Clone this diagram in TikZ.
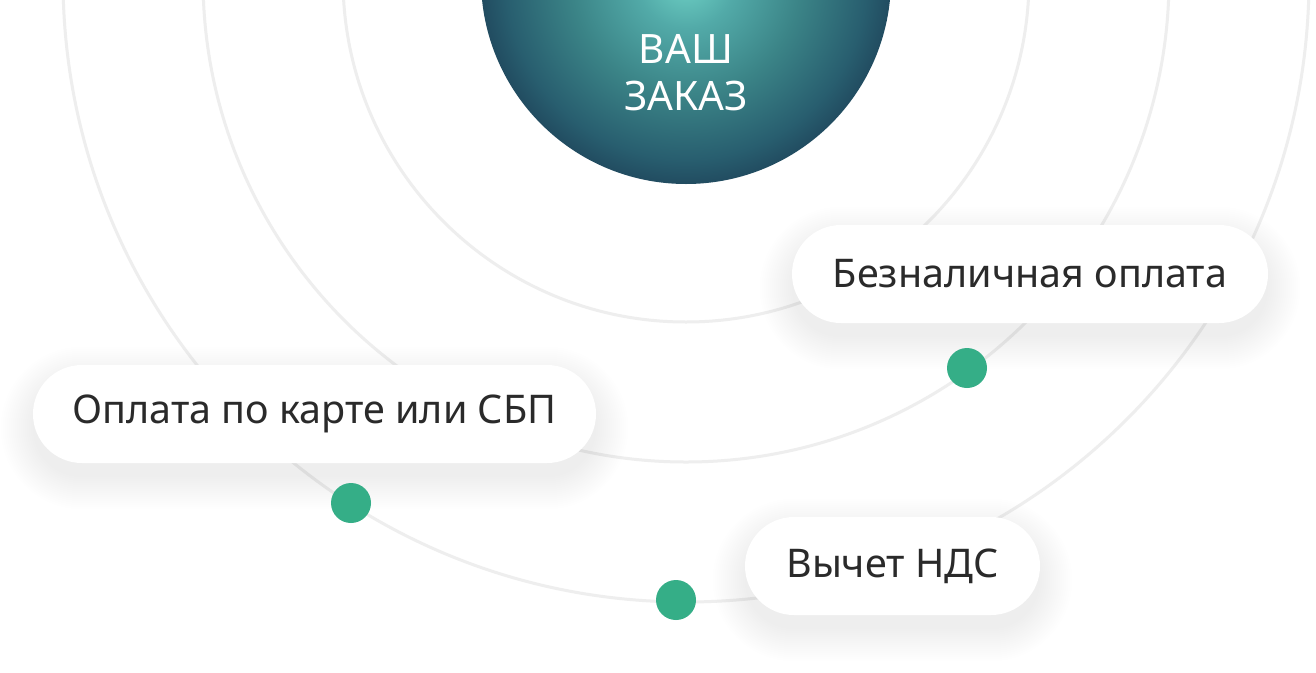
\documentclass[tikz,border=0pt]{standalone}
\usepackage{fontspec}
\setmainfont{Noto Sans}
\definecolor{ringc}{HTML}{EEEEEE}
\definecolor{dotc}{HTML}{35AE87}
\definecolor{textc}{HTML}{2A2A2A}
\definecolor{o1}{HTML}{6FD2C6}
\definecolor{o2}{HTML}{52AAA8}
\definecolor{o3}{HTML}{3B8487}
\definecolor{o4}{HTML}{285E6F}
\definecolor{o5}{HTML}{1B3A52}
\pgfdeclareradialshading{orb}{\pgfpoint{0bp}{0bp}}{color(0bp)=(o1); color(6bp)=(o2); color(14bp)=(o3); color(22bp)=(o4); color(28bp)=(o5); color(50bp)=(o5)}
\pgfdeclarelayer{back}
\pgfdeclarelayer{shadow}
\pgfsetlayers{back,shadow,main}
\tikzset{
  ring/.style={draw=ringc, line width=3pt},
  dotnode/.style={circle, fill=dotc, minimum size=40pt, inner sep=0pt},
  pill/.style={rectangle, rounded corners=49pt, minimum height=98pt, inner sep=0pt,
    fill=white, text=textc, font=\fontsize{39.5}{46}\selectfont},
  shadowstep/.style={fill=black, opacity=0.0055},
  orbnode/.style={circle, minimum size=410pt, inner sep=0pt, shading=orb},
  orbtext/.style={text=white, align=center, font=\fontsize{40.5}{47}\selectfont}
}
\newcommand{\pillshadow}[1]{%
  \begin{pgfonlayer}{shadow}
  \foreach \i [evaluate=\i as \r using 48.9+\i] in {0,2,...,32}{
    \fill[shadowstep, rounded corners=\r pt]
      ([shift={(-\i pt,\i pt-14pt)}]#1.north west) rectangle ([shift={(\i pt,-\i pt-14pt)}]#1.south east);
  }
  \end{pgfonlayer}}
\begin{document}
\begin{tikzpicture}[x=1pt,y=-1pt]
\useasboundingbox (0,0) rectangle (1316,672);
\clip (0,0) rectangle (1316,672);
\begin{pgfonlayer}{back}
\fill[white] (0,0) rectangle (1316,672);
\coordinate (O) at (686,-21);
\draw[ring] (O) circle[radius=343pt];
\draw[ring] (O) circle[radius=483pt];
\draw[ring] (O) circle[radius=623pt];
\end{pgfonlayer}
\node[orbnode] (orb) at (O) {};
\node[orbtext] (order) at (686,73) {ВАШ\\ЗАКАЗ};
\node[dotnode] (d1) at (967,368) {};
\node[dotnode] (d2) at (351,503) {};
\node[dotnode] (d3) at (676,600) {};
\node[pill, minimum width=476pt] (p1) at (1030,274) {Безналичная оплата};
\node[pill, minimum width=563pt] (p2) at (314.5,414) {Оплата по карте или СБП};
\node[pill, minimum width=295pt] (p3) at (892.5,566) {Вычет НДС};
\pillshadow{p1}
\pillshadow{p2}
\pillshadow{p3}
\end{tikzpicture}
\end{document}
